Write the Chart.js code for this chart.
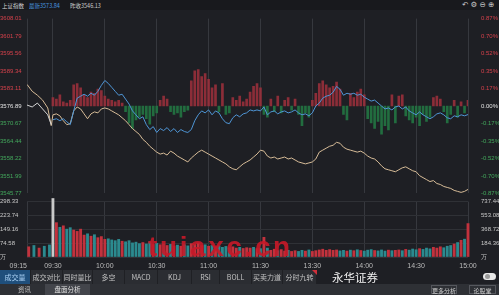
<!DOCTYPE html>
<html><head><meta charset="utf-8">
<script src="https://cdn.jsdelivr.net/npm/chart.js@4.4.1/dist/chart.umd.min.js"></script>
<style>
html,body{margin:0;padding:0;background:#1e1f24;width:499px;height:295px;overflow:hidden;font-family:"Noto Sans CJK SC","Liberation Sans",sans-serif;}
.abs{position:absolute;white-space:nowrap;}
.sm{position:absolute;top:0;font-size:11px;line-height:20px;transform:scale(0.5);transform-origin:0 0;}
#hdr{left:0;top:0;width:499px;height:10px;background:#18191d;}
#tabs{left:0;top:270px;width:317px;height:14px;background:#2b2d32;font-size:7px;line-height:14px;color:#c2c2c2;}
#tabs .t{position:absolute;top:0;height:14px;text-align:center;border-right:1px solid #1f2024;box-sizing:border-box;}
#row2{left:0;top:284px;width:499px;height:11px;background:#2e3035;font-size:6.5px;line-height:11px;color:#c4c4c4;}
.btn{position:absolute;top:1px;height:9px;line-height:9px;border:1px solid #55575d;box-sizing:border-box;text-align:center;font-size:6px;color:#cfcfcf;}
</style></head>
<body>
<div id="hdr" class="abs">
  <span class="sm" id="hName" style="left:2px;color:#d6d6d6"></span>
  <span class="sm" id="hLast" style="left:29px;color:#4a9be0"></span>
  <span class="sm" id="hPrev" style="left:70px;color:#cacaca"></span>
  <span class="abs" style="left:462px;top:0;line-height:10px;color:#c8c8c8;font-family:'DejaVu Sans';font-size:7.5px;letter-spacing:2.2px">↶⚙⊖⊕</span>
</div>
<canvas id="cp" class="abs" width="499" height="192" style="left:0;top:10px"></canvas>
<canvas id="cv" class="abs" width="499" height="80" style="left:0;top:193px"></canvas>
<div class="abs" style="left:148px;top:233px;font-family:'Liberation Sans';font-weight:bold;font-size:28px;line-height:28px;letter-spacing:2.6px;color:rgba(200,24,40,0.9)">tuiaxc.cn</div>
<div id="tabs" class="abs"></div>
<div class="abs" style="left:312px;top:270px;width:0;height:0;border-top:5px solid #d0303a;border-left:5px solid transparent"></div>
<div class="abs" style="left:332px;top:270px;font-size:11.5px;line-height:14px;color:#f2f2f2">永华证券</div>
<div class="abs" style="left:483px;top:273px;width:13px;height:7px;border-radius:4px;background:#e8e8e8"></div>
<div class="abs" style="left:485px;top:274px;width:5px;height:5px;border-radius:3px;background:#9a9a9a"></div>
<div id="row2" class="abs">
  <span class="abs" style="left:18px">资讯</span>
  <span class="abs" style="left:45px;width:45px;height:11px;background:#43454b;text-align:center;color:#e0e0e0">盘面分析</span>
  <span class="btn" style="left:431px;width:26px">更多分析</span>
  <span class="btn" style="left:469px;width:27px">论股堂</span>
</div>
<script>
// ---------- data ----------
const INDEX_NAME = '上证指数';
const LATEST = 3573.84;
const PREV_CLOSE = 3546.13;
const BASE = 3576.89;

const priceTicks = [3608.01,3601.79,3595.56,3589.34,3583.11,3576.89,3570.67,3564.44,3558.22,3551.99,3545.77];
const volTicks = [0,74.58,149.16,223.74,298.33];
const volTicksRight = [0,184.36,368.72,553.08,737.44];
const timeTicks = ['09:15','09:30','10:00','10:30','11:00','11:30','13:30','14:00','14:30','15:00'];
const tabNames = ['成交量','成交对比','同时量比','多空','MACD','KDJ','RSI','BOLL','买卖力道','分时九转'];

const auctionTimes = ['09:15','09:18','09:21','09:24','09:27','09:29'];
const auctionPrice = [3577.24,3576.54,3577.94,3575.84,3573.75,3570.25];
const auctionLead = [3584.58,3582.13,3580.73,3578.99,3576.19,3569.90];
const auctionVolTimes = ['09:16','09:19','09:22','09:25','09:28'];
const auctionVol = [55,62,48,58,65];

const price = [3572.00,3572.35,3571.65,3572.35,3571.30,3570.25,3575.14,3579.69,3580.38,3581.08,
3580.38,3581.43,3580.73,3582.13,3584.23,3585.97,3584.93,3583.53,3582.13,3580.73,
3581.08,3579.34,3577.59,3575.14,3573.75,3572.35,3573.05,3570.25,3568.50,3569.55,
3567.46,3568.85,3568.15,3569.20,3567.81,3568.85,3567.46,3568.50,3567.81,3567.46,
3568.50,3571.65,3573.75,3575.14,3574.44,3575.49,3573.75,3575.14,3574.44,3572.35,
3570.95,3570.60,3572.70,3573.75,3573.05,3574.09,3574.44,3575.49,3575.14,3575.49,
3575.14,3576.54,3573.75,3574.79,3575.14,3574.09,3574.79,3575.14,3574.44,3574.79,
3575.49,3574.44,3573.75,3574.09,3573.40,3574.44,3576.89,3577.94,3579.69,3580.38,
3580.73,3581.78,3583.88,3582.83,3580.73,3581.43,3581.08,3581.43,3580.73,3581.08,
3580.03,3579.34,3578.64,3578.99,3577.94,3576.89,3575.84,3576.19,3575.49,3576.54,
3576.89,3575.84,3576.54,3575.14,3574.44,3573.75,3574.79,3573.75,3573.05,3572.35,
3573.05,3574.09,3574.44,3573.75,3572.70,3572.35,3573.40,3573.05,3573.75,3573.40,
3573.84];

const lead = [3573.75,3574.09,3573.40,3571.65,3570.25,3570.60,3575.14,3576.54,3575.84,3574.09,
3572.35,3574.09,3574.79,3574.44,3575.84,3576.19,3575.84,3575.14,3574.44,3573.75,
3572.70,3571.65,3570.25,3568.85,3567.81,3566.76,3565.01,3563.96,3562.56,3561.52,
3560.47,3559.77,3560.12,3559.42,3560.82,3560.12,3559.07,3558.37,3557.67,3556.97,
3558.37,3559.42,3560.47,3561.17,3560.47,3559.77,3559.07,3558.37,3557.67,3556.97,
3556.28,3555.23,3554.53,3554.18,3555.23,3556.28,3556.97,3557.67,3558.72,3559.77,
3561.17,3560.82,3559.07,3558.37,3558.72,3558.02,3558.37,3558.72,3558.02,3558.37,
3557.67,3556.97,3556.62,3556.28,3556.62,3556.97,3558.02,3560.47,3561.17,3561.87,
3562.56,3562.91,3563.96,3563.61,3562.22,3561.52,3561.17,3560.82,3560.47,3560.82,
3560.12,3559.07,3558.37,3558.02,3556.97,3555.58,3554.53,3554.18,3553.83,3553.48,
3554.18,3554.88,3555.23,3554.53,3553.83,3553.48,3552.08,3551.38,3550.69,3549.99,
3550.34,3549.29,3548.94,3548.24,3547.89,3547.54,3546.84,3546.49,3546.14,3546.49,
3547.19];

const diff = [3.0,2.5,4.0,1.5,1.0,2.0,7.5,8.0,6.5,4.0,
3.0,5.0,4.5,6.0,5.5,3.5,2.5,2.0,1.5,2.0,
1.0,-2.0,-6.0,-8.0,-5.0,-4.0,-3.0,-4.5,-6.5,-3.5,
-2.5,2.0,3.5,2.5,-2.0,-3.0,-2.5,-4.0,-2.0,-1.5,
9.0,12.5,13.0,10.5,11.5,9.5,6.5,7.5,-2.0,8.0,
-3.0,-2.5,3.0,2.0,3.5,1.5,2.5,5.0,7.0,8.0,
6.5,-3.0,-4.0,2.5,-2.0,3.5,-2.5,2.0,3.0,-1.5,
2.5,-3.0,-7.0,-2.5,-4.0,2.0,4.5,8.0,9.0,7.5,
6.5,7.0,8.5,6.0,-3.0,-5.0,4.5,3.0,5.0,6.0,
4.0,-4.5,-6.0,-8.0,-5.5,-10.0,-7.0,-8.5,4.0,-6.0,
3.5,4.0,-3.5,-5.0,-6.0,-4.0,-7.0,-3.0,-5.5,-4.0,
3.0,3.5,2.5,-2.0,-6.0,-3.0,2.0,-4.0,1.5,-2.5,
2.0];

const volume = [315,185,160,168,150,158,145,138,150,118,
125,112,120,104,110,95,98,92,88,95,
85,82,88,76,80,72,78,70,82,68,
74,66,70,62,68,60,64,58,66,60,
72,68,75,62,66,58,62,55,60,52,
57,50,55,48,52,46,50,48,52,45,
45,106,48,36,42,34,40,32,36,30,
34,30,36,32,38,30,34,38,42,36,
40,36,38,33,36,32,37,34,39,35,
32,37,40,35,33,38,32,37,34,36,
38,34,41,37,43,39,45,41,48,44,
52,48,55,50,58,62,70,78,90,96,
180];

// ---------- helpers ----------
function toIdx(t){const p=t.split(':').map(Number);let v=p[0]*60+p[1]-570;if(p[0]>=13)v-=90;return v;}
function fromIdx(v){const t=v<=120?570+v:780+(v-120);return String(Math.floor(t/60)).padStart(2,'0')+':'+String(t%60).padStart(2,'0');}
const times=[];for(let m=0;m<=240;m+=2)times.push(fromIdx(m));

document.getElementById('hName').textContent=INDEX_NAME;
document.getElementById('hLast').textContent='最新'+LATEST.toFixed(2);
document.getElementById('hPrev').textContent='昨收'+PREV_CLOSE.toFixed(2);

const tabEdges=[0,31,63,93,125,158,192,220,252,283,317];
const tabsEl=document.getElementById('tabs');
tabNames.forEach((n,i)=>{const s=document.createElement('div');s.className='t';s.textContent=n;
  s.style.left=tabEdges[i]+'px';s.style.width=(tabEdges[i+1]-tabEdges[i])+'px';
  if(i===0){s.style.background='#1f4f7c';s.style.color='#a9d0f4';}
  tabsEl.appendChild(s);});

const RED='#d5414b', GREEN='#43a85c', WHITE='#e2e2e2';
const FONT='"Liberation Sans", Arial, sans-serif';
Chart.defaults.font.family=FONT;

function sideColor(v){return Math.abs(v-BASE)<0.005?WHITE:(v>BASE?RED:GREEN);}
const xScale={type:'linear',min:toIdx('09:15'),max:toIdx('15:00'),offset:false,
  afterBuildTicks:s=>{s.ticks=timeTicks.map(t=>({value:toIdx(t)}));},
  ticks:{display:false},grid:{color:'#36383e',drawTicks:false,offset:false},border:{display:false}};

new Chart(document.getElementById('cp'),{
  type:'line',
  data:{datasets:[
    {type:'bar',data:times.map((t,i)=>({x:toIdx(t),y:[BASE,BASE+diff[i]]})),
     backgroundColor:diff.map(d=>d>=0?'rgba(160,48,60,0.85)':'rgba(34,118,66,0.9)'),
     barThickness:2,order:4,yAxisID:'y'},
    {type:'line',data:auctionTimes.map((t,i)=>({x:toIdx(t),y:auctionLead[i]})).concat(times.map((t,i)=>({x:toIdx(t),y:lead[i]}))),
     borderColor:'#d7bc98',borderWidth:1,pointRadius:0,order:3,yAxisID:'y'},
    {type:'line',data:times.map((t,i)=>({x:toIdx(t),y:price[i]})),
     borderColor:'#4f96d6',borderWidth:1,pointRadius:0,order:1,yAxisID:'y'},
    {type:'line',data:auctionTimes.map((t,i)=>({x:toIdx(t),y:auctionPrice[i]})),
     borderColor:'#d4d4d4',borderWidth:1,pointRadius:0,order:2,yAxisID:'y'}
  ]},
  options:{responsive:false,animation:false,devicePixelRatio:1,layout:{padding:0},
    plugins:{legend:{display:false},tooltip:{enabled:false}},
    scales:{
      x:xScale,
      y:{position:'left',min:priceTicks[priceTicks.length-1],max:priceTicks[0],
        afterBuildTicks:s=>{s.ticks=priceTicks.map(v=>({value:v}));},
        afterFit:s=>{s.width=27;},
        ticks:{font:{size:6},padding:2,crossAlign:'far',color:c=>sideColor(c.tick.value),callback:v=>v.toFixed(2)},
        grid:{display:false},border:{display:false}},
      yr:{position:'right',min:priceTicks[priceTicks.length-1],max:priceTicks[0],
        afterBuildTicks:s=>{s.ticks=priceTicks.map(v=>({value:v}));},
        afterFit:s=>{s.width=31;},
        ticks:{font:{size:6},padding:5,crossAlign:'near',color:c=>sideColor(c.tick.value),callback:v=>((v-BASE)/BASE*100).toFixed(2)+'%'},
        grid:{display:false},border:{display:false}}
    }}
});

const volTimes=auctionVolTimes.concat(times);
const volVals=auctionVol.concat(volume);
const volPrice=auctionPrice.slice(0,5).concat(price);
const volColors=volVals.map((v,i)=>{ if(i===auctionVol.length) return '#c9c9c9';
  const up=i===0?true:volPrice[i]>=volPrice[i-1]; return up?'#c2323d':'#2b8a8f';});

const timeLabels={id:'timeLabels',afterDraw(chart){
  const sx=chart.scales.x,ctx=chart.ctx;ctx.save();
  ctx.font='7px '+FONT;ctx.fillStyle='#bcbcbc';ctx.textBaseline='middle';
  timeTicks.forEach((t,i)=>{ctx.textAlign=i===0?'right':'center';
    ctx.fillText(t,sx.getPixelForValue(toIdx(t)),chart.chartArea.bottom+9);});
  ctx.restore();}};

new Chart(document.getElementById('cv'),{
  type:'bar',
  data:{datasets:[{data:volTimes.map((t,i)=>({x:toIdx(t),y:volVals[i]})),backgroundColor:volColors,
    barThickness:2.2,clip:false,yAxisID:'yv'}]},
  options:{responsive:false,animation:false,devicePixelRatio:1,layout:{padding:{top:4,bottom:16}},
    plugins:{legend:{display:false},tooltip:{enabled:false}},
    scales:{
      x:xScale,
      yv:{position:'left',min:0,max:volTicks[volTicks.length-1],
        afterBuildTicks:s=>{s.ticks=volTicks.map(v=>({value:v}));},
        afterFit:s=>{s.width=27;},
        ticks:{font:{size:6},padding:2,crossAlign:'far',color:'#c8c8c8',callback:v=>v===0?'万':v.toFixed(2)},
        grid:{color:'#2f3136',drawTicks:false},border:{display:false}},
      yv2:{position:'right',min:0,max:volTicksRight[volTicksRight.length-1],
        afterBuildTicks:s=>{s.ticks=volTicksRight.map(v=>({value:v}));},
        afterFit:s=>{s.width=31;},
        ticks:{font:{size:6},padding:5,crossAlign:'near',color:'#c8c8c8',callback:v=>v===0?'万':v.toFixed(2)},
        grid:{display:false},border:{display:false}}
    }},
  plugins:[timeLabels]
});
</script>
</body></html>
